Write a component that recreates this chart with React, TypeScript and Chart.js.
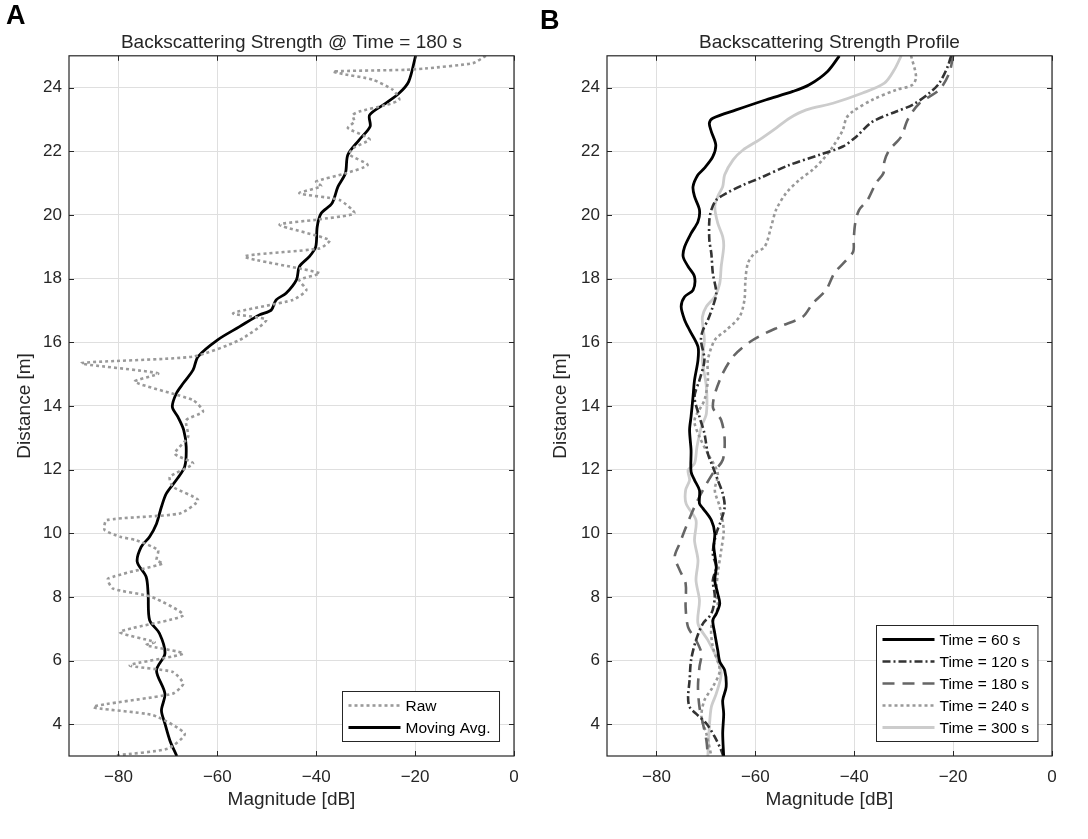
import { useEffect, useRef } from "react";
import { Chart, registerables } from "chart.js";

Chart.register(...registerables);

const FONT = '"Liberation Sans", Arial, Helvetica, sans-serif';
const TEXT = "#262626";
const AXIS = "#262626";
const GRID = "#dfdfdf";

// ---------- axis ticks ----------
const X_TICKS = [-80, -60, -40, -20, 0];
const Y_TICKS = [4, 6, 8, 10, 12, 14, 16, 18, 20, 22, 24];
const X_RANGE = [-90, 0];
const Y_RANGE = [3, 25];

// ---------- Panel A : [distance (m), magnitude (dB)] ----------
const RAW_180: [number, number][] = [
  [25.0, -5.7], [24.77, -8.3], [24.6, -18], [24.56, -21.8], [24.51, -36.6], [24.45, -35.3],
  [24.25, -28.6], [23.93, -24.5], [23.62, -23.2], [23.45, -26], [23.25, -31.3], [23.14, -32.6],
  [22.93, -32.3], [22.73, -33.6], [22.46, -29.9], [22.36, -29.2], [22.1, -32.5], [21.9, -33.3],
  [21.57, -29.6], [21.31, -34], [21.05, -40], [20.9, -39], [20.68, -43.4], [20.47, -35.3],
  [20.05, -32.3], [19.85, -40], [19.69, -47.4], [19.21, -37.3], [18.95, -39.3], [18.69, -54.5],
  [18.17, -39.3], [17.96, -43.4], [17.64, -42], [17.33, -44.7], [16.91, -56.8], [16.7, -50.1],
  [16.07, -55.5], [15.55, -64.9], [15.34, -87.5], [15.02, -72], [14.76, -76.7], [14.18, -64.9],
  [13.82, -62.9], [13.55, -66.3], [13.03, -65.9], [12.5, -68.6], [12.19, -64.9], [11.77, -69.6],
  [11.46, -69], [11.04, -63.9], [10.62, -67.6], [10.41, -82.4], [10.1, -82.8], [9.89, -79.7],
  [9.78, -76.4], [9.47, -72], [9.15, -72.3], [9.05, -71], [8.57, -82.1], [8.26, -81.1],
  [8.0, -73.3], [7.42, -66.9], [6.9, -79.7], [6.58, -72.7], [6.48, -74.4], [6.22, -66.9],
  [5.85, -77.7], [5.64, -69], [5.27, -66.9], [4.96, -69], [4.54, -85.1], [4.28, -73],
  [3.7, -66.6], [3.23, -70], [3.02, -80.4],
];

const MOVAVG_180: [number, number][] = [
  [25.0, -19.9], [24.19, -21.3], [23.83, -23.2], [23.51, -25.9], [23.14, -29.2], [22.78, -29.1],
  [22.36, -31.3], [21.89, -33.6], [21.31, -34.1], [20.89, -35.6], [20.37, -36.8], [20.05, -39.0],
  [19.63, -39.8], [19.0, -40.1], [18.69, -41.4], [18.38, -43.4], [17.96, -44.0], [17.54, -46.1],
  [17.33, -48.1], [17.01, -49.1], [16.86, -51.5], [16.49, -55.5], [16.07, -60.0], [15.55, -63.9],
  [15.13, -64.9], [14.71, -66.9], [14.39, -68.3], [13.97, -69.1], [13.66, -68.0], [13.24, -66.8],
  [12.72, -66.3], [12.09, -66.6], [11.67, -68.3], [11.25, -70.3], [10.83, -71.3], [10.3, -72.3],
  [9.89, -73.7], [9.57, -75.4], [9.1, -76.2], [8.63, -74.4], [8.1, -74.0], [7.27, -73.7],
  [6.85, -71.7], [6.22, -70.6], [5.69, -72.3], [4.96, -70.6], [4.43, -71.3], [4.02, -70.6],
  [3.49, -69.6], [3.0, -68.2],
];

// ---------- Panel B : [distance (m), magnitude (dB)] ----------
const T60: [number, number][] = [
  [25, -43.0], [24.51, -45.4], [24.09, -49.1], [23.88, -52.4], [23.62, -57.8], [23.3, -63.9],
  [23.04, -68.6], [22.88, -69.3], [22.62, -68.9], [22.2, -68.0], [21.83, -68.6], [21.47, -70.3],
  [21.26, -71.6], [20.89, -72.6], [20.58, -72.3], [20.16, -71.3], [19.79, -71.6], [19.42, -73.0],
  [19.0, -74.3], [18.69, -74.6], [18.38, -73.6], [18.06, -72.3], [17.64, -72.6], [17.43, -74.3],
  [17.12, -75.0], [16.7, -74.3], [16.38, -73.3], [15.86, -71.6], [15.44, -71.6], [14.81, -72.3],
  [14.29, -72.6], [13.66, -73.0], [13.24, -73.3], [12.61, -73.0], [11.93, -73.0], [11.67, -72.3],
  [11.35, -71.3], [10.93, -71.3], [10.78, -70.6], [10.41, -68.9], [9.99, -68.2], [9.57, -68.4],
  [8.94, -67.9], [8.52, -68.2], [8.1, -67.6], [7.79, -67.2], [7.47, -67.9], [7.27, -68.6],
  [6.85, -68.2], [6.32, -67.6], [5.96, -67.2], [5.69, -66.2], [5.17, -65.9], [4.75, -66.6],
  [4.33, -66.4], [3.7, -66.6], [3.0, -66.4],
];

const T120: [number, number][] = [
  [25, -20.4], [24.66, -21.1], [24.14, -22.8], [23.83, -24.8], [23.46, -28.2], [23.25, -31.5],
  [22.93, -36.3], [22.46, -39.6], [22.15, -42.3], [21.89, -47.0], [21.57, -53.1], [21.15, -59.2],
  [20.94, -62.5], [20.68, -65.9], [20.47, -67.9], [20.16, -68.9], [19.84, -69.3], [19.21, -69.3],
  [18.79, -68.9], [18.17, -68.6], [17.54, -67.9], [17.12, -68.6], [16.7, -69.6], [16.38, -70.6],
  [16.07, -71.0], [15.44, -70.3], [14.81, -71.3], [14.29, -72.3], [13.66, -71.3], [13.14, -70.3],
  [12.5, -69.6], [12.09, -68.6], [11.67, -67.6], [11.25, -66.6], [10.83, -66.2], [10.41, -66.9],
  [9.99, -67.9], [9.36, -68.6], [8.94, -67.9], [8.52, -68.6], [8.0, -68.2], [7.47, -68.9],
  [7.16, -70.6], [6.64, -72.0], [6.01, -73.0], [5.38, -73.3], [4.85, -73.6], [4.54, -73.3],
  [4.33, -72.0], [4.02, -69.9], [3.6, -68.2], [3.18, -66.9], [3.0, -66.5],
];

const T180: [number, number][] = [
  [25, -20.0], [24.45, -20.8], [23.93, -22.8], [23.51, -26.8], [22.99, -29.2], [22.46, -30.5],
  [22.04, -32.9], [21.68, -33.9], [21.31, -34.1], [21.0, -35.6], [20.47, -37.3], [20.16, -39.0],
  [19.74, -39.8], [19.21, -40.1], [18.85, -40.2], [18.58, -41.6], [18.17, -44.0], [17.64, -45.7],
  [17.22, -48.4], [16.8, -50.4], [16.49, -55.1], [16.07, -60.5], [15.55, -64.5], [14.81, -67.2],
  [13.97, -68.6], [13.55, -66.9], [12.93, -66.2], [12.3, -66.6], [11.88, -68.6], [11.35, -70.6],
  [10.83, -72.3], [10.2, -74.0], [9.68, -75.3], [9.26, -76.3], [8.84, -75.3], [8.42, -74.1],
  [7.68, -74.1], [7.05, -73.6], [6.64, -72.0], [6.22, -70.9], [5.8, -71.3], [5.17, -71.6],
  [4.54, -71.3], [4.02, -70.6], [3.49, -69.9], [3.0, -69.6],
];

const T240: [number, number][] = [
  [25, -28.5], [24.35, -27.5], [24.09, -28.2], [23.93, -31.5], [23.62, -36.3], [23.25, -40.3],
  [23.04, -41.6], [22.67, -42.3], [22.15, -44.3], [21.73, -46.4], [21.42, -48.4], [21.1, -51.1],
  [20.68, -53.8], [20.16, -55.8], [19.63, -56.8], [19.0, -58.1], [18.79, -60.2], [18.48, -61.5],
  [17.96, -62.0], [17.33, -62.2], [16.8, -63.2], [16.38, -65.9], [16.07, -68.2], [15.44, -69.6],
  [14.81, -69.6], [14.18, -70.3], [13.55, -72.3], [13.03, -71.3], [12.5, -69.6], [11.88, -67.6],
  [11.35, -68.2], [10.83, -67.2], [10.1, -66.4], [9.47, -66.9], [8.73, -67.6], [8.1, -67.9],
  [7.68, -67.6], [7.05, -68.9], [6.43, -68.6], [5.69, -67.2], [5.17, -68.6], [4.75, -70.3],
  [4.22, -70.9], [3.7, -69.9], [3.0, -68.9],
];

const T300: [number, number][] = [
  [25, -30.5], [24.56, -31.9], [24.14, -33.9], [23.83, -38.3], [23.51, -44.3], [23.3, -49.7],
  [23.04, -53.1], [22.73, -55.8], [22.36, -59.2], [22.04, -62.5], [21.73, -64.5], [21.26, -66.2],
  [20.89, -66.6], [20.58, -67.6], [20.26, -68.2], [19.74, -67.6], [19.32, -66.6], [19.0, -66.4],
  [18.38, -66.9], [17.85, -67.2], [17.43, -68.2], [17.12, -69.9], [16.8, -70.7], [16.49, -70.6],
  [16.07, -70.3], [15.44, -70.7], [14.6, -69.9], [13.76, -69.9], [13.35, -70.9], [12.72, -71.8],
  [12.19, -72.3], [11.98, -73.6], [11.67, -73.3], [11.35, -74.1], [10.93, -74.0], [10.41, -72.0],
  [9.78, -72.3], [9.15, -71.6], [8.52, -72.0], [7.89, -71.3], [7.16, -71.6], [6.64, -69.6],
  [6.11, -67.9], [5.59, -66.9], [4.96, -67.9], [4.54, -68.9], [3.91, -69.3], [3.0, -69.6],
];

const LABELS_A = ["Raw", "Moving Avg."];
const LABELS_B = ["Time = 60 s", "Time = 120 s", "Time = 180 s", "Time = 240 s", "Time = 300 s"];

type Series = {
  label: string;
  points: [number, number][];
  color: string;
  width: number;
  dash: number[];
  tension: number;
};

type PanelSpec = {
  letter: string;
  letterX: number;
  letterY: number;
  title: string;
  yAxisWidth: number;
  padRight: number;
  series: Series[];
};

const DOT = [3, 3];
const DASHDOT = [8, 3, 2, 3];
const DASH = [12, 8];

const PANEL_A: PanelSpec = {
  letter: "A",
  letterX: 6,
  letterY: 24,
  title: "Backscattering Strength @ Time = 180 s",
  yAxisWidth: 69,
  padRight: 22,
  series: [
    { label: LABELS_A[0], points: RAW_180, color: "#9a9a9a", width: 2.6, dash: DOT, tension: 0.2 },
    { label: LABELS_A[1], points: MOVAVG_180, color: "#000000", width: 2.8, dash: [], tension: 0.3 },
  ],
};

const PANEL_B: PanelSpec = {
  letter: "B",
  letterX: 4,
  letterY: 29,
  title: "Backscattering Strength Profile",
  yAxisWidth: 71,
  padRight: 36,
  series: [
    { label: LABELS_B[0], points: T60, color: "#000000", width: 2.8, dash: [], tension: 0.3 },
    { label: LABELS_B[1], points: T120, color: "#333333", width: 2.6, dash: DASHDOT, tension: 0.3 },
    { label: LABELS_B[2], points: T180, color: "#666666", width: 2.6, dash: DASH, tension: 0.3 },
    { label: LABELS_B[3], points: T240, color: "#999999", width: 2.6, dash: DOT, tension: 0.3 },
    { label: LABELS_B[4], points: T300, color: "#cccccc", width: 2.8, dash: [], tension: 0.3 },
  ],
};

const W = 1088;
const H = 839;
const SPLIT = 536;

const innerTicks = {
  id: "innerTicks",
  afterDatasetsDraw(chart: any) {
    const { ctx, chartArea: a, scales } = chart;
    const xs = scales.x;
    const ys = scales.y;
    const L = 5;
    ctx.save();
    ctx.strokeStyle = AXIS;
    ctx.lineWidth = 1;
    ctx.setLineDash([]);
    ctx.beginPath();
    xs.ticks.forEach((t: any) => {
      const px = Math.round(xs.getPixelForValue(t.value)) + 0.5;
      ctx.moveTo(px, a.bottom);
      ctx.lineTo(px, a.bottom - L);
      ctx.moveTo(px, a.top);
      ctx.lineTo(px, a.top + L);
    });
    ys.ticks.forEach((t: any) => {
      const py = Math.round(ys.getPixelForValue(t.value)) + 0.5;
      ctx.moveTo(a.left, py);
      ctx.lineTo(a.left + L, py);
      ctx.moveTo(a.right, py);
      ctx.lineTo(a.right - L, py);
    });
    ctx.stroke();
    ctx.lineWidth = 1.2;
    ctx.strokeRect(a.left, a.top, a.right - a.left, a.bottom - a.top);
    ctx.restore();
  },
};

const boxLegend = {
  id: "boxLegend",
  afterDraw(chart: any) {
    const { ctx, chartArea: a } = chart;
    const ds = chart.data.datasets;
    ctx.save();
    ctx.font = `15.5px ${FONT}`;
    const textW = Math.max(...ds.map((d: any) => ctx.measureText(d.label).width));
    const padL = 6, lineLen = 52, gap = 5, padR = 9, rowH = 22, padV = 3;
    const w = padL + lineLen + gap + textW + padR;
    const h = ds.length * rowH + padV * 2;
    const right = a.right - 15;
    const bottom = a.bottom - 15;
    const left = Math.round(right - w) + 0.5;
    const top = Math.round(bottom - h) + 0.5;
    ctx.fillStyle = "#ffffff";
    ctx.fillRect(left, top, w, h);
    ctx.strokeStyle = AXIS;
    ctx.lineWidth = 1;
    ctx.setLineDash([]);
    ctx.strokeRect(left, top, w, h);
    ds.forEach((d: any, i: number) => {
      const cy = top + padV + rowH * (i + 0.5);
      ctx.save();
      ctx.strokeStyle = d.borderColor;
      ctx.lineWidth = d.borderWidth;
      ctx.setLineDash(d.borderDash || []);
      ctx.beginPath();
      ctx.moveTo(left + padL, cy);
      ctx.lineTo(left + padL + lineLen, cy);
      ctx.stroke();
      ctx.restore();
      ctx.fillStyle = "#000000";
      ctx.textBaseline = "middle";
      ctx.textAlign = "left";
      ctx.fillText(d.label, left + padL + lineLen + gap, cy + 1);
    });
    ctx.restore();
  },
};

const panelLetter = {
  id: "panelLetter",
  afterDraw(chart: any, _args: any, opts: any) {
    const { ctx } = chart;
    ctx.save();
    ctx.font = `bold 27px ${FONT}`;
    ctx.fillStyle = "#000000";
    ctx.textBaseline = "alphabetic";
    ctx.textAlign = "left";
    ctx.fillText(opts.text, opts.x, opts.y);
    ctx.restore();
  },
};

function fmtX(v: number) {
  return v < 0 ? "\u2212" + Math.abs(v) : String(v);
}

function makeConfig(p: PanelSpec): any {
  return {
    type: "scatter",
    data: {
      datasets: p.series.map((s) => ({
        label: s.label,
        data: s.points.map(([d, m]) => ({ x: m, y: d })),
        showLine: true,
        pointRadius: 0,
        pointHoverRadius: 0,
        borderColor: s.color,
        backgroundColor: s.color,
        borderWidth: s.width,
        borderDash: s.dash,
        borderCapStyle: "butt",
        borderJoinStyle: "round",
        tension: s.tension,
        fill: false,
      })),
    },
    options: {
      animation: false,
      responsive: true,
      maintainAspectRatio: false,
      events: [],
      layout: { padding: { left: 0, right: p.padRight, top: 0, bottom: 0 } },
      plugins: {
        legend: { display: false },
        tooltip: { enabled: false },
        title: {
          display: true,
          text: p.title,
          fullSize: false,
          color: TEXT,
          font: { family: FONT, size: 19, weight: "normal" },
          padding: { top: 31, bottom: 2 },
        },
        panelLetter: { text: p.letter, x: p.letterX, y: p.letterY },
      },
      scales: {
        x: {
          type: "linear",
          position: "bottom",
          min: X_RANGE[0],
          max: X_RANGE[1],
          afterBuildTicks: (s: any) => {
            s.ticks = X_TICKS.map((v) => ({ value: v }));
          },
          afterFit: (s: any) => {
            s.height = 83;
          },
          grid: { color: GRID, drawTicks: false, lineWidth: 1 },
          border: { display: false },
          ticks: {
            color: TEXT,
            font: { family: FONT, size: 17 },
            padding: 11,
            maxRotation: 0,
            autoSkip: false,
            callback: (v: any) => fmtX(Number(v)),
          },
          title: {
            display: true,
            text: "Magnitude [dB]",
            color: TEXT,
            font: { family: FONT, size: 19 },
            padding: { top: 0, bottom: 28 },
          },
        },
        y: {
          type: "linear",
          position: "left",
          min: Y_RANGE[0],
          max: Y_RANGE[1],
          afterBuildTicks: (s: any) => {
            s.ticks = Y_TICKS.map((v) => ({ value: v }));
          },
          afterFit: (s: any) => {
            s.width = p.yAxisWidth;
          },
          grid: { color: GRID, drawTicks: false, lineWidth: 1 },
          border: { display: false },
          ticks: {
            color: TEXT,
            font: { family: FONT, size: 17 },
            padding: 7,
            autoSkip: false,
            callback: (v: any) => String(v),
          },
          title: {
            display: true,
            text: "Distance [m]",
            color: TEXT,
            font: { family: FONT, size: 19 },
            padding: { top: 13, bottom: 0 },
          },
        },
      },
    },
    plugins: [innerTicks, boxLegend, panelLetter],
  };
}

function Panel({ spec, left, width }: { spec: PanelSpec; left: number; width: number }) {
  const ref = useRef<HTMLCanvasElement>(null);
  useEffect(() => {
    if (!ref.current) return;
    const chart = new Chart(ref.current, makeConfig(spec));
    return () => chart.destroy();
  }, [spec]);
  return (
    <div style={{ position: "absolute", left, top: 0, width, height: H }}>
      <canvas ref={ref} />
    </div>
  );
}

export default function App() {
  return (
    <div style={{ position: "fixed", left: 0, top: 0, width: W, height: H, background: "#ffffff", overflow: "hidden" }}>
      <Panel spec={PANEL_A} left={0} width={SPLIT} />
      <Panel spec={PANEL_B} left={SPLIT} width={W - SPLIT} />
    </div>
  );
}
